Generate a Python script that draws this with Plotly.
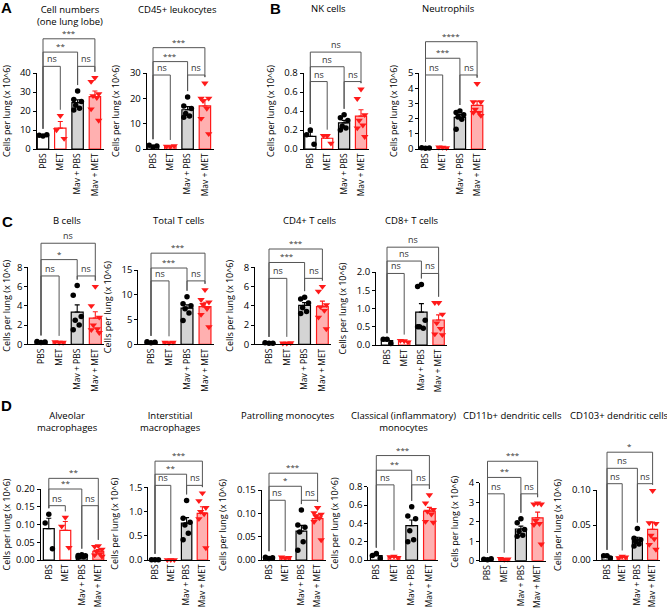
import numpy as np
import plotly.graph_objects as go

groups = ["PBS", "MET", "Mav + PBS", "Mav + MET"]

# cells per lung (x 10^6), one list of points per group
cell_numbers = [[6.8, 7.2, 7.5], [17.5, 10.0, 5.5],
                [30.5, 26.0, 25.0, 23.0, 21.5, 20.5],
                [37.5, 35.5, 29.0, 28.0, 27.0, 21.0, 15.0]]
cd45_leukocytes = [[0.8, 1.5, 1.2], [0.8, 1.0, 1.2],
                   [20.5, 17.0, 16.0, 14.0, 13.0, 12.5],
                   [26.0, 20.0, 20.0, 19.0, 16.0, 12.0, 6.0]]
nk_cells = [[0.2, 0.15, 0.05], [0.14, 0.14, 0.06],
            [0.36, 0.33, 0.3, 0.24, 0.22, 0.2],
            [0.63, 0.53, 0.36, 0.3, 0.25, 0.22, 0.13]]
neutrophils = [[0.05, 0.08, 0.06], [0.1, 0.12, 0.08],
               [2.5, 2.4, 2.25, 2.1, 1.95, 1.3],
               [4.3, 3.1, 3.1, 2.6, 2.4, 2.4, 2.2]]
b_cells = [[0.2, 0.3, 0.25], [0.2, 0.25, 0.2],
           [6.1, 5.1, 2.9, 2.5, 2.0, 1.5],
           [6.0, 4.0, 2.8, 2.0, 1.6, 1.5, 1.2]]
total_t_cells = [[0.3, 0.5, 0.4], [0.3, 0.4, 0.4],
                 [9.6, 8.2, 7.8, 7.2, 6.3, 4.8],
                 [11.0, 9.0, 8.5, 8.0, 7.2, 6.0, 3.5]]
cd4_t_cells = [[0.1, 0.15, 0.12], [0.1, 0.12, 0.15],
               [4.9, 4.7, 4.3, 3.8, 3.4, 3.2],
               [6.0, 5.5, 4.1, 3.9, 3.5, 2.8, 1.6]]
cd8_t_cells = [[0.16, 0.16, 0.04], [0.11, 0.12, 0.08],
               [1.66, 1.6, 0.68, 0.5, 0.46, 0.5],
               [1.16, 1.16, 0.84, 0.6, 0.45, 0.3, 0.28]]
alveolar_mac = [[0.129, 0.104, 0.032], [0.12, 0.095, 0.035],
                [0.015, 0.013, 0.012, 0.01, 0.009, 0.008],
                [0.04, 0.038, 0.03, 0.024, 0.017, 0.014, 0.01]]
interstitial_mac = [[0.005, 0.005, 0.005], [0.005, 0.005, 0.005],
                    [1.23, 0.86, 0.78, 0.72, 0.55, 0.42],
                    [1.38, 1.22, 1.08, 1.0, 0.95, 0.85, 0.25]]
patrolling_mono = [[0.003, 0.006, 0.005], [0.004, 0.006, 0.005],
                   [0.107, 0.075, 0.07, 0.06, 0.039, 0.021],
                   [0.112, 0.101, 0.098, 0.094, 0.09, 0.082, 0.043]]
classical_mono = [[0.07, 0.05, 0.02], [0.04, 0.035, 0.025],
                  [0.58, 0.48, 0.45, 0.32, 0.22, 0.2],
                  [0.71, 0.62, 0.55, 0.53, 0.5, 0.42, 0.41]]
cd11b_dc = [[0.05, 0.08, 0.1], [0.06, 0.1, 0.08],
            [2.15, 1.95, 1.6, 1.5, 1.3, 1.25],
            [2.95, 2.9, 2.9, 2.05, 1.9, 1.85, 0.85]]
cd103_dc = [[0.006, 0.006, 0.003], [0.005, 0.003, 0.004],
            [0.045, 0.031, 0.029, 0.026, 0.023, 0.02],
            [0.099, 0.053, 0.052, 0.035, 0.03, 0.022, 0.015]]

# comparisons: PBS-MET, PBS-Mav+PBS, PBS-Mav+MET, Mav+PBS-Mav+MET
comparisons = [(0, 1), (0, 2), (0, 3), (2, 3)]
sig_cell_numbers = ["ns", "**", "***", "ns"]
sig_cd45 = ["ns", "***", "***", "ns"]
sig_nk = ["ns", "ns", "ns", "ns"]
sig_neutrophils = ["ns", "***", "****", "ns"]
sig_b = ["ns", "*", "ns", "ns"]
sig_total_t = ["ns", "***", "***", "ns"]
sig_cd4 = ["ns", "***", "***", "ns"]
sig_cd8 = ["ns", "ns", "ns", "ns"]
sig_alveolar = ["ns", "**", "**", "ns"]
sig_interstitial = ["ns", "**", "***", "ns"]
sig_patrolling = ["ns", "*", "***", "ns"]
sig_classical = ["ns", "**", "***", "ns"]
sig_cd11b = ["ns", "**", "***", "ns"]
sig_cd103 = ["ns", "ns", "*", "ns"]

W, H = 667, 614
FONT = "Open Sans"
RED = "#ff1a1a"
fills = ["white", "white", "#d4d4d4", "#ffb0b0"]
edges = ["black", RED, "black", RED]
symbols = ["circle", "triangle-down", "circle", "triangle-down"]
jitter = [0.0, -0.22, 0.22, -0.11, 0.11, -0.22, 0.22]

# box = (y-axis x px, first bar centre px, bar spacing px, top tick y px, zero y px)
panels = [
    dict(title="Cell numbers<br>(one lung lobe)", tpos=(70, 15.5), data=cell_numbers, sig=sig_cell_numbers,
         ymax=40, dtick=10, fmt="d", box=(36.7, 43, 17.3, 73, 149), levels=[43.5, 51, 58, 43.5]),
    dict(title="CD45+ leukocytes", tpos=(177, 9.5), data=cd45_leukocytes, sig=sig_cd45,
         ymax=30, dtick=10, fmt="d", box=(146.7, 153, 17.3, 73, 149), levels=[29.2, 34.5, 40, 29.2]),
    dict(title="NK cells", tpos=(328, 8.5), data=nk_cells, sig=sig_nk,
         ymax=0.8, dtick=0.2, fmt=".1f", box=(303.5, 310.3, 16.9, 73, 149), levels=[0.71, 0.866, 1.02, 0.71]),
    dict(title="Neutrophils", tpos=(448, 8.5), data=neutrophils, sig=sig_neutrophils,
         ymax=5, dtick=1, fmt="d", box=(419.3, 425.5, 17.2, 73, 149), levels=[4.87, 5.97, 7.06, 4.87]),
    dict(title="B cells", tpos=(67, 221), data=b_cells, sig=sig_b,
         ymax=8, dtick=2, fmt="d", box=(28.3, 41, 18.1, 267.3, 344.3), levels=[7.1, 8.8, 10.5, 7.1]),
    dict(title="Total T cells", tpos=(179, 221), data=total_t_cells, sig=sig_total_t,
         ymax=15, dtick=5, fmt="d", box=(138.3, 151, 18, 270, 344.3), levels=[12.8, 15.4, 18.4, 12.8]),
    dict(title="CD4+ T cells", tpos=(310, 221), data=cd4_t_cells, sig=sig_cd4,
         ymax=8, dtick=2, fmt="d", box=(255, 269, 17.8, 267.3, 344.3), levels=[6.85, 8.5, 9.9, 6.85]),
    dict(title="CD8+ T cells", tpos=(412, 221), data=cd8_t_cells, sig=sig_cd8,
         ymax=2.0, dtick=0.5, fmt=".1f", box=(376, 387, 17.2, 272, 345), levels=[1.96, 2.3, 2.68, 1.96]),
    dict(title="Alveolar<br>macrophages", tpos=(67, 421.5), data=alveolar_mac, sig=sig_alveolar,
         ymax=0.2, dtick=0.05, fmt=".2f", box=(40.7, 48.8, 16.5, 489, 560), levels=[0.153, 0.2, 0.23, 0.153]),
    dict(title="Interstitial<br>macrophages", tpos=(170, 421.5), data=interstitial_mac, sig=sig_interstitial,
         ymax=1.5, dtick=0.5, fmt=".1f", box=(148.3, 155, 15.8, 487.3, 560), levels=[1.54, 1.77, 2.04, 1.54]),
    dict(title="Patrolling monocytes", tpos=(288, 415), data=patrolling_mono, sig=sig_patrolling,
         ymax=0.15, dtick=0.05, fmt=".2f", box=(261.7, 269, 16.2, 490, 560), levels=[0.128, 0.158, 0.186, 0.128]),
    dict(title="Classical (inflammatory)<br>monocytes", tpos=(403, 421.5), data=classical_mono, sig=sig_classical,
         ymax=0.8, dtick=0.2, fmt=".1f", box=(368.3, 376.3, 17.7, 486.7, 560), levels=[0.82, 0.98, 1.14, 0.82]),
    dict(title="CD11b+ dendritic cells", tpos=(512, 415), data=cd11b_dc, sig=sig_cd11b,
         ymax=4, dtick=1, fmt="d", box=(480, 487.5, 16.7, 482.7, 560.7), levels=[3.43, 4.27, 5.1, 3.43]),
    dict(title="CD103+ dendritic cells", tpos=(619, 415), data=cd103_dc, sig=sig_cd103,
         ymax=0.1, dtick=0.05, fmt=".2f", box=(596.7, 607, 15.2, 490, 560), levels=[0.109, 0.131, 0.154, 0.109]),
]

fig = go.Figure()
layout = {}
shapes = []
annotations = []

for k, p in enumerate(panels):
    sfx = "" if k == 0 else str(k + 1)
    xa, ya = "x" + sfx, "y" + sfx
    x0, c0, s, ytop, ybot = p["box"]
    left, right = -(c0 - x0) / s, 3.5
    x1 = x0 + (right - left) * s
    dom_h = ybot - ytop

    layout["xaxis" + sfx] = dict(
        domain=[x0 / W, x1 / W], range=[left, right], anchor=ya,
        tickvals=[0, 1, 2, 3], ticktext=groups, tickangle=-90, ticks="",
        showline=True, linecolor="black", linewidth=1, showgrid=False, zeroline=False,
        automargin=False, tickfont=dict(size=8.5, color="black"))
    layout["yaxis" + sfx] = dict(
        domain=[1 - ybot / H, 1 - ytop / H], range=[0, p["ymax"]], anchor=xa,
        dtick=p["dtick"], tick0=0, tickformat=p["fmt"], ticks="outside", ticklen=3,
        tickcolor="black", showline=True, linecolor="black", linewidth=1,
        showgrid=False, zeroline=False, automargin=False,
        tickfont=dict(size=9.5, color="black"),
        title=dict(text="Cells per lung (x 10^6)", standoff=8, font=dict(size=9, color="black")))

    tops = []
    for i, pts in enumerate(p["data"]):
        arr = np.array(pts)
        mean = arr.mean()
        sem = arr.std(ddof=1) / np.sqrt(len(arr))
        tops.append(max(arr.max(), mean + sem))
        fig.add_trace(go.Bar(
            x=[i], y=[mean], width=0.66, xaxis=xa, yaxis=ya,
            marker=dict(color=fills[i], line=dict(color=edges[i], width=1.2)),
            error_y=dict(type="data", array=[sem], arrayminus=[0], symmetric=False,
                         color=edges[i], thickness=1.1, width=2.5),
            showlegend=False, hoverinfo="skip"))
        fig.add_trace(go.Scatter(
            x=[i + jitter[j] for j in range(len(pts))], y=pts, mode="markers",
            xaxis=xa, yaxis=ya, cliponaxis=False,
            marker=dict(symbol=symbols[i], size=5.5 if i % 2 == 0 else 6.5, color=edges[i]),
            showlegend=False, hoverinfo="skip"))

    gap = 6 / dom_h
    xr, yr = xa + " domain", ya + " domain"
    for (a, b), lab, lev in zip(comparisons, p["sig"], p["levels"]):
        fa = (a - left) / (right - left)
        fb = (b - left) / (right - left)
        yl = lev / p["ymax"]
        ba = tops[a] / p["ymax"] + gap
        bb = tops[b] / p["ymax"] + gap
        line = dict(color="#555555", width=1)
        shapes.append(dict(type="line", xref=xr, yref=yr, x0=fa, x1=fa, y0=ba, y1=yl, line=line))
        shapes.append(dict(type="line", xref=xr, yref=yr, x0=fa, x1=fb, y0=yl, y1=yl, line=line))
        shapes.append(dict(type="line", xref=xr, yref=yr, x0=fb, x1=fb, y0=bb, y1=yl, line=line))
        annotations.append(dict(text=lab, xref=xr, yref=yr, x=(fa + fb) / 2, y=yl,
                                xanchor="center", yanchor="bottom", showarrow=False, yshift=-1,
                                font=dict(size=9 if lab == "ns" else 8, color="#333333")))

    cx, cy = p["tpos"]
    annotations.append(dict(text=p["title"], xref="paper", yref="paper", x=cx / W, y=1 - cy / H,
                            xanchor="center", yanchor="middle", showarrow=False,
                            font=dict(size=9.5, color="black")))

# panel letters
for letter, (lx, ly) in zip(["A", "B", "C", "D"], [(6.5, 7), (275, 8), (7, 222), (6.5, 405)]):
    annotations.append(dict(text="<b>%s</b>" % letter, xref="paper", yref="paper", x=lx / W, y=1 - ly / H,
                            xanchor="center", yanchor="middle", showarrow=False,
                            font=dict(size=15, color="black", family="Liberation Sans")))

fig.update_layout(
    width=W, height=H, margin=dict(l=0, r=0, t=0, b=0),
    paper_bgcolor="white", plot_bgcolor="white", template="none",
    font=dict(family=FONT, size=9, color="black"),
    barmode="overlay", showlegend=False, hovermode=False,
    shapes=shapes, annotations=annotations, **layout)

# the page body has a default margin; drop it so the 667x614 figure fills the window
fig.write_html("out.html", config={"displayModeBar": False, "staticPlot": True},
               post_script="document.body.style.margin='0';document.body.style.overflow='hidden';")
